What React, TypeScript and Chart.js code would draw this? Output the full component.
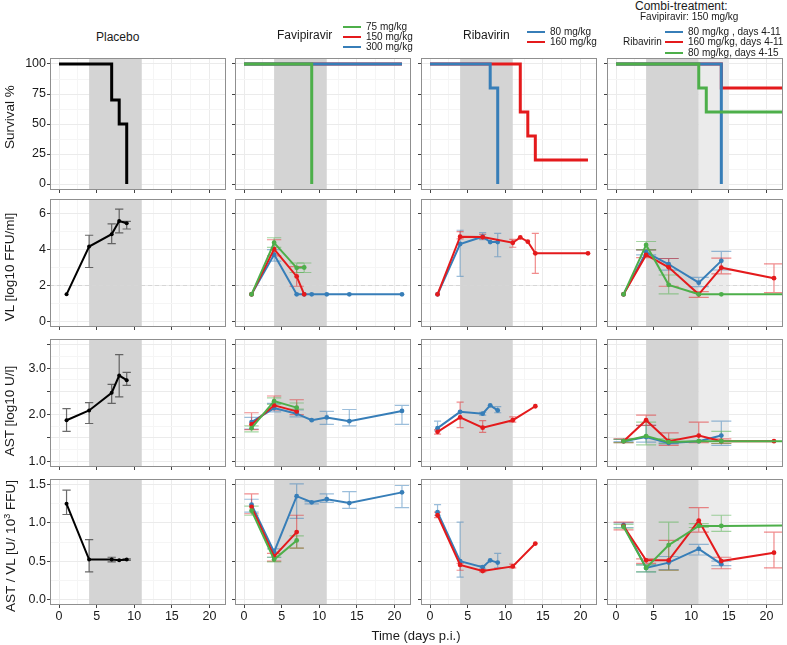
import React, { useEffect, useRef } from 'react';
import { Chart, registerables } from 'chart.js';
Chart.register(...registerables);

const FONT = '"Liberation Sans", Arial, Helvetica, sans-serif';
const GREEN = '#4DAF4A';
const RED = '#E41A1C';
const BLUE = '#377EB8';
const BLACK = '#000000';

// ---------- axes ----------
const xGrid = [0, 2.5, 5, 7.5, 10, 12.5, 15, 17.5, 20];
const xMajor = [0, 5, 10, 15, 20];
const treatWindow = [4, 11];
const extendedWindow = [11, 15];

const survGrid = [0, 12.5, 25, 37.5, 50, 62.5, 75, 87.5, 100];
const survMajor = [0, 25, 50, 75, 100];
const vlGrid = [0, 1, 2, 3, 4, 5, 6];
const vlMajor = [0, 2, 4, 6];
const astGrid = [1, 1.25, 1.5, 1.75, 2, 2.25, 2.5, 2.75, 3, 3.25, 3.5];
const astMajor = [1, 1.5, 2, 2.5, 3, 3.5];
const astLabels = [1, 2, 3];
const ratioGrid = [0, 0.25, 0.5, 0.75, 1, 1.25, 1.5];
const ratioMajor = [0, 0.5, 1, 1.5];
const vlDetectionLimit = 2;

// ---------- survival (%) ----------
const survPlaceboX = [0, 7, 8, 9];
const survPlaceboY = [100, 70, 50, 0];
const survFavi75X = [0, 9];
const survFavi75Y = [100, 0];
const survFavi150X = [0, 21];
const survFavi150Y = [100, 100];
const survFavi300X = [0, 21];
const survFavi300Y = [100, 100];
const survRiba80X = [0, 8, 9];
const survRiba80Y = [100, 80, 0];
const survRiba160X = [0, 12, 13, 14, 21];
const survRiba160Y = [100, 60, 40, 20, 20];
const survCombi80X = [0, 14];
const survCombi80Y = [100, 0];
const survCombi160X = [0, 14, 28];
const survCombi160Y = [100, 80, 80];
const survCombi80LongX = [0, 11, 12, 28];
const survCombi80LongY = [100, 80, 60, 60];

// ---------- viral load (log10 FFU/ml) ----------
const vlPlaceboX = [1, 4, 7, 8, 9];
const vlPlaceboY = [1.5, 4.17, 4.86, 5.6, 5.47];
const vlPlaceboLo = [null, 3.0, 4.33, 4.93, 5.15];
const vlPlaceboHi = [null, 4.8, 5.43, 6.26, 5.57];

const vlFavi75X = [1, 4, 7, 8];
const vlFavi75Y = [1.5, 4.38, 2.98, 3.0];
const vlFavi75Lo = [null, 4.12, 2.72, 2.72];
const vlFavi75Hi = [null, 4.66, 3.25, 3.25];
const vlFavi150X = [1, 4, 7, 8];
const vlFavi150Y = [1.5, 4.03, 2.5, 1.5];
const vlFavi150Lo = [null, 3.65, 1.95, null];
const vlFavi150Hi = [null, 4.55, 3.05, null];
const vlFavi300X = [1, 4, 7, 8, 9, 11, 14, 21];
const vlFavi300Y = [1.5, 3.72, 1.5, 1.5, 1.5, 1.5, 1.5, 1.5];
const vlFavi300Lo = [null, 3.35, null, null, null, null, null, null];
const vlFavi300Hi = [null, 4.0, null, null, null, null, null, null];

const vlRiba80X = [1, 4, 7, 8, 9];
const vlRiba80Y = [1.5, 4.31, 4.72, 4.42, 4.42];
const vlRiba80Lo = [null, 2.5, 4.55, null, 3.6];
const vlRiba80Hi = [null, 5.08, 4.95, null, 4.9];
const vlRiba160X = [1, 4, 7, 11, 12, 13, 14, 21];
const vlRiba160Y = [1.5, 4.72, 4.7, 4.38, 4.68, 4.44, 3.79, 3.79];
const vlRiba160Lo = [null, 4.6, 4.6, 4.13, null, null, 2.67, null];
const vlRiba160Hi = [null, 5.0, 4.85, 4.57, null, null, 4.91, null];

const vlCombi80X = [1, 4, 7, 11, 14];
const vlCombi80Y = [1.5, 3.85, 3.18, 2.15, 3.37];
const vlCombi80Lo = [null, 3.7, 2.85, 1.93, 2.86];
const vlCombi80Hi = [null, 3.98, 3.5, 2.45, 3.9];
const vlCombi160X = [1, 4, 7, 11, 14, 21];
const vlCombi160Y = [1.5, 3.7, 3.01, 1.5, 2.99, 2.4];
const vlCombi160Lo = [null, 3.55, 1.95, 1.33, 2.64, 1.6];
const vlCombi160Hi = [null, 3.98, 3.5, 1.65, 3.52, 3.2];
const vlCombi80LongX = [1, 4, 7, 11, 14, 28];
const vlCombi80LongY = [1.5, 4.26, 2.03, 1.5, 1.5, 1.5];
const vlCombi80LongLo = [null, 4.0, 1.52, null, null, null];
const vlCombi80LongHi = [null, 4.45, 2.58, null, null, null];

// ---------- AST (log10 U/l) ----------
const astPlaceboX = [1, 4, 7, 8, 9];
const astPlaceboY = [1.88, 2.09, 2.47, 2.84, 2.74];
const astPlaceboLo = [1.64, 1.81, 2.24, 2.38, 2.63];
const astPlaceboHi = [2.13, 2.26, 2.65, 3.29, 2.91];

const astFavi75X = [1, 4, 7];
const astFavi75Y = [1.71, 2.29, 2.15];
const astFavi75Lo = [1.63, 2.22, 2.12];
const astFavi75Hi = [1.76, 2.36, 2.25];
const astFavi150X = [1, 4, 7];
const astFavi150Y = [1.79, 2.2, 2.07];
const astFavi150Lo = [1.68, 2.1, 2.0];
const astFavi150Hi = [2.04, 2.4, 2.32];
const astFavi300X = [1, 4, 7, 9, 11, 14, 21];
const astFavi300Y = [1.84, 2.14, 2.02, 1.88, 1.94, 1.86, 2.08];
const astFavi300Lo = [1.69, 2.06, 1.95, null, 1.79, 1.76, 1.79];
const astFavi300Hi = [1.94, 2.24, 2.1, null, 2.07, 2.11, 2.2];

const astRiba80X = [1, 4, 7, 8, 9];
const astRiba80Y = [1.71, 2.06, 2.02, 2.2, 2.09];
const astRiba80Lo = [1.65, null, 1.99, null, 2.04];
const astRiba80Hi = [1.86, 2.27, 2.05, null, 2.17];
const astRiba160X = [1, 4, 7, 11, 14];
const astRiba160Y = [1.63, 1.94, 1.72, 1.88, 2.18];
const astRiba160Lo = [1.58, 1.72, 1.62, 1.84, null];
const astRiba160Hi = [1.68, 2.27, 1.87, 1.95, null];

const astCombi80X = [1, 4, 7, 11, 14];
const astCombi80Y = [1.43, 1.52, 1.39, 1.43, 1.55];
const astCombi80Lo = [1.42, 1.41, 1.37, null, 1.34];
const astCombi80Hi = [1.47, 1.77, 1.41, null, 1.86];
const astCombi160X = [1, 4, 7, 11, 14, 21];
const astCombi160Y = [1.43, 1.88, 1.43, 1.55, 1.43, 1.43];
const astCombi160Lo = [1.4, 1.77, 1.34, 1.4, 1.38, null];
const astCombi160Hi = [1.48, 1.99, 1.61, 1.84, 1.48, null];
const astCombi80LongX = [1, 4, 7, 11, 14, 28];
const astCombi80LongY = [1.43, 1.54, 1.41, 1.43, 1.43, 1.43];
const astCombi80LongLo = [1.4, 1.35, 1.38, null, 1.38, null];
const astCombi80LongHi = [1.47, 1.84, 1.48, null, 1.64, null];

// ---------- AST / VL (U / 10^3 FFU) ----------
const ratioPlaceboX = [1, 4, 7, 8, 9];
const ratioPlaceboY = [1.25, 0.52, 0.52, 0.51, 0.52];
const ratioPlaceboLo = [1.11, 0.36, 0.49, null, 0.51];
const ratioPlaceboHi = [1.43, 0.78, 0.55, null, 0.53];

const ratioFavi75X = [1, 4, 7];
const ratioFavi75Y = [1.16, 0.52, 0.77];
const ratioFavi75Lo = [1.1, 0.49, 0.67];
const ratioFavi75Hi = [1.22, 0.55, 0.83];
const ratioFavi150X = [1, 4, 7];
const ratioFavi150Y = [1.21, 0.56, 0.88];
const ratioFavi150Lo = [1.12, 0.5, 0.67];
const ratioFavi150Hi = [1.38, 0.6, 1.1];
const ratioFavi300X = [1, 4, 7, 9, 11, 14, 21];
const ratioFavi300Y = [1.24, 0.62, 1.35, 1.27, 1.31, 1.26, 1.4];
const ratioFavi300Lo = [1.14, 0.55, 1.06, 1.25, 1.27, 1.19, 1.2];
const ratioFavi300Hi = [1.31, 0.66, 1.51, 1.28, 1.38, 1.41, 1.49];

const ratioRiba80X = [1, 4, 7, 8, 9];
const ratioRiba80Y = [1.14, 0.5, 0.42, 0.51, 0.48];
const ratioRiba80Lo = [1.1, 0.29, 0.4, null, 0.41];
const ratioRiba80Hi = [1.24, 1.01, 0.44, null, 0.6];
const ratioRiba160X = [1, 4, 7, 11, 14];
const ratioRiba160Y = [1.1, 0.45, 0.37, 0.43, 0.73];
const ratioRiba160Lo = [1.07, 0.38, 0.36, 0.41, null];
const ratioRiba160Hi = [1.14, 0.47, 0.39, 0.46, null];

const ratioCombi80X = [1, 4, 7, 11, 14];
const ratioCombi80Y = [0.97, 0.41, 0.48, 0.66, 0.46];
const ratioCombi80Lo = [0.94, 0.36, 0.39, 0.58, 0.44];
const ratioCombi80Hi = [1.0, 0.45, 0.56, 0.72, 0.5];
const ratioCombi160X = [1, 4, 7, 11, 14, 21];
const ratioCombi160Y = [0.96, 0.51, 0.51, 1.03, 0.5, 0.61];
const ratioCombi160Lo = [0.91, 0.47, 0.38, 0.88, 0.4, 0.41];
const ratioCombi160Hi = [1.01, 0.53, 0.77, 1.2, 0.55, 0.88];
const ratioCombi80LongX = [1, 4, 7, 11, 14, 28];
const ratioCombi80LongY = [0.95, 0.41, 0.71, 0.96, 0.96, 0.97];
const ratioCombi80LongLo = [0.93, 0.36, 0.38, 0.94, 0.89, null];
const ratioCombi80LongHi = [0.98, 0.45, 1.01, 0.99, 1.1, null];

// ---------- layout ----------
const COL_LEFT = [50, 235, 421, 607];
const COL_W = 176;
const ROW_TOP = [58, 199, 339, 479];
const ROW_H = [132, 128, 128, 126];
const X_MIN = -1.2;
const X_MAX = 22.2;
const CAP_HALF = [0.55, 0.95, 0.47, 1.33];

type Series = {
  x: number[];
  y: number[];
  lo?: (number | null)[];
  hi?: (number | null)[];
  color: string;
};

type RowAxis = {
  min: number;
  max: number;
  grid: number[];
  major: number[];
  labels: number[];
  fmt: (v: number) => string;
};

const ROW_AXES: RowAxis[] = [
  { min: -5, max: 105, grid: survGrid, major: survMajor, labels: survMajor, fmt: (v) => String(v) },
  { min: -0.325, max: 6.825, grid: vlGrid, major: vlMajor, labels: vlMajor, fmt: (v) => String(v) },
  { min: 0.875, max: 3.625, grid: astGrid, major: astMajor, labels: astLabels, fmt: (v) => v.toFixed(1) },
  { min: -0.075, max: 1.575, grid: ratioGrid, major: ratioMajor, labels: ratioMajor, fmt: (v) => v.toFixed(1) },
];

function rgba(hex: string, a: number) {
  const n = parseInt(hex.slice(1), 16);
  return `rgba(${(n >> 16) & 255},${(n >> 8) & 255},${n & 255},${a})`;
}

type PanelProps = { row: number; col: number; series: Series[] };

function Panel({ row, col, series }: PanelProps) {
  const ref = useRef<HTMLCanvasElement>(null);
  const padL = col === 0 ? 40 : 6;
  const padR = 4;
  const padT = 12;
  const padB = row === 3 ? 24 : 12;
  const w = COL_W + padL + padR;
  const h = ROW_H[row] + padT + padB;
  const left = COL_LEFT[col] - padL;
  const top = ROW_TOP[row] - padT;

  useEffect(() => {
    const canvas = ref.current!;
    const ax = ROW_AXES[row];
    const stepped = row === 0;
    const showY = col === 0;
    const showX = row === 3;
    const shades: { from: number; to: number; color: string }[] = [
      { from: treatWindow[0], to: treatWindow[1], color: '#D4D4D4' },
    ];
    if (col === 3) shades.push({ from: extendedWindow[0], to: extendedWindow[1], color: '#EBEBEB' });

    const decor = {
      id: 'decor',
      beforeDatasetsDraw(chart: any) {
        const { ctx, chartArea: a } = chart;
        const xs = chart.scales.x;
        const ys = chart.scales.y;
        ctx.save();
        ctx.beginPath();
        ctx.rect(a.left, a.top, a.right - a.left, a.bottom - a.top);
        ctx.clip();
        for (const s of shades) {
          const x1 = xs.getPixelForValue(s.from);
          const x2 = xs.getPixelForValue(s.to);
          ctx.fillStyle = s.color;
          ctx.fillRect(x1, a.top, x2 - x1, a.bottom - a.top);
        }
        if (row === 1) {
          const yy = Math.round(ys.getPixelForValue(vlDetectionLimit)) + 0.5;
          ctx.strokeStyle = '#D6D6D6';
          ctx.lineWidth = 1;
          ctx.setLineDash([4, 3]);
          ctx.beginPath();
          ctx.moveTo(a.left, yy);
          ctx.lineTo(a.right, yy);
          ctx.stroke();
          ctx.setLineDash([]);
        }
        const cap = CAP_HALF[col];
        for (let i = series.length - 1; i >= 0; i--) {
          const s = series[i];
          if (!s.lo || !s.hi) continue;
          ctx.strokeStyle = s.color === BLACK ? 'rgba(70,70,70,0.8)' : rgba(s.color, 0.5);
          ctx.lineWidth = 1.2;
          for (let k = 0; k < s.x.length; k++) {
            const lo = s.lo[k];
            const hi = s.hi[k];
            if (lo == null || hi == null) continue;
            const px = xs.getPixelForValue(s.x[k]);
            const pl = xs.getPixelForValue(s.x[k] - cap);
            const pr = xs.getPixelForValue(s.x[k] + cap);
            const py1 = ys.getPixelForValue(lo);
            const py2 = ys.getPixelForValue(hi);
            ctx.beginPath();
            ctx.moveTo(px, py1);
            ctx.lineTo(px, py2);
            ctx.moveTo(pl, py1);
            ctx.lineTo(pr, py1);
            ctx.moveTo(pl, py2);
            ctx.lineTo(pr, py2);
            ctx.stroke();
          }
        }
        ctx.restore();
      },
      afterDraw(chart: any) {
        const { ctx, chartArea: a } = chart;
        ctx.save();
        ctx.strokeStyle = '#8f8f8f';
        ctx.lineWidth = 1;
        ctx.strokeRect(
          Math.round(a.left) + 0.5,
          Math.round(a.top) + 0.5,
          Math.round(a.right - a.left) - 1,
          Math.round(a.bottom - a.top) - 1
        );
        ctx.restore();
      },
    };

    const datasets = series.map((s, i) => ({
      data: s.x.map((xv, k) => ({ x: xv, y: s.y[k] })),
      borderColor: s.color,
      backgroundColor: s.color,
      borderWidth: stepped ? 3 : 2,
      pointRadius: stepped ? 0 : s.color === BLACK ? 2 : 2.4,
      pointBorderWidth: 0,
      pointBackgroundColor: s.color,
      stepped: stepped ? ('before' as const) : false,
      tension: 0,
      order: i,
      borderJoinStyle: 'miter' as const,
    }));

    const chart = new Chart(canvas, {
      type: 'line',
      data: { datasets },
      plugins: [decor],
      options: {
        animation: false,
        responsive: false,
        devicePixelRatio: 1,
        events: [],
        layout: { padding: { top: padT, right: padR, left: 0, bottom: 0 } },
        plugins: { legend: { display: false }, tooltip: { enabled: false }, title: { display: false } },
        scales: {
          x: {
            type: 'linear',
            min: X_MIN,
            max: X_MAX,
            afterBuildTicks: (scale: any) => {
              scale.ticks = xGrid.map((v) => ({ value: v }));
            },
            afterFit: (scale: any) => {
              scale.height = padB;
            },
            border: { display: false },
            grid: {
              color: (c: any) => (c.tick && xMajor.includes(c.tick.value) ? '#EBEBEB' : '#F5F5F5'),
              lineWidth: 1,
              drawTicks: true,
              tickLength: 3,
              tickColor: (c: any) => (c.tick && xMajor.includes(c.tick.value) ? '#444' : 'rgba(0,0,0,0)'),
            },
            ticks: {
              autoSkip: false,
              maxRotation: 0,
              padding: 1,
              color: '#1a1a1a',
              font: { family: FONT, size: 12.5 },
              callback: (v: any) => (showX && xMajor.includes(Number(v)) ? String(v) : ''),
            },
          },
          y: {
            type: 'linear',
            min: ax.min,
            max: ax.max,
            afterBuildTicks: (scale: any) => {
              scale.ticks = ax.grid.map((v) => ({ value: v }));
            },
            afterFit: (scale: any) => {
              scale.width = padL;
            },
            border: { display: false },
            grid: {
              color: (c: any) => (c.tick && ax.major.includes(c.tick.value) ? '#EBEBEB' : '#F5F5F5'),
              lineWidth: 1,
              drawTicks: true,
              tickLength: 3,
              tickColor: (c: any) => (c.tick && ax.major.includes(c.tick.value) ? '#444' : 'rgba(0,0,0,0)'),
            },
            ticks: {
              autoSkip: false,
              padding: 1,
              color: '#1a1a1a',
              font: { family: FONT, size: 12.5 },
              callback: (v: any) => (showY && ax.labels.includes(Number(v)) ? ax.fmt(Number(v)) : ''),
            },
          },
        },
      } as any,
    });
    return () => chart.destroy();
  }, []);

  return (
    <canvas
      ref={ref}
      width={w}
      height={h}
      style={{ position: 'absolute', left, top, width: w, height: h, display: 'block' }}
    />
  );
}

const S = (x: number[], y: number[], color: string, lo?: (number | null)[], hi?: (number | null)[]): Series => ({
  x,
  y,
  color,
  lo,
  hi,
});

// panels[col][row], series listed top-most first
const PANELS: Series[][][] = [
  [
    [S(survPlaceboX, survPlaceboY, BLACK)],
    [S(vlPlaceboX, vlPlaceboY, BLACK, vlPlaceboLo, vlPlaceboHi)],
    [S(astPlaceboX, astPlaceboY, BLACK, astPlaceboLo, astPlaceboHi)],
    [S(ratioPlaceboX, ratioPlaceboY, BLACK, ratioPlaceboLo, ratioPlaceboHi)],
  ],
  [
    [S(survFavi75X, survFavi75Y, GREEN), S(survFavi300X, survFavi300Y, BLUE), S(survFavi150X, survFavi150Y, RED)],
    [
      S(vlFavi75X, vlFavi75Y, GREEN, vlFavi75Lo, vlFavi75Hi),
      S(vlFavi150X, vlFavi150Y, RED, vlFavi150Lo, vlFavi150Hi),
      S(vlFavi300X, vlFavi300Y, BLUE, vlFavi300Lo, vlFavi300Hi),
    ],
    [
      S(astFavi75X, astFavi75Y, GREEN, astFavi75Lo, astFavi75Hi),
      S(astFavi150X, astFavi150Y, RED, astFavi150Lo, astFavi150Hi),
      S(astFavi300X, astFavi300Y, BLUE, astFavi300Lo, astFavi300Hi),
    ],
    [
      S(ratioFavi75X, ratioFavi75Y, GREEN, ratioFavi75Lo, ratioFavi75Hi),
      S(ratioFavi150X, ratioFavi150Y, RED, ratioFavi150Lo, ratioFavi150Hi),
      S(ratioFavi300X, ratioFavi300Y, BLUE, ratioFavi300Lo, ratioFavi300Hi),
    ],
  ],
  [
    [S(survRiba80X, survRiba80Y, BLUE), S(survRiba160X, survRiba160Y, RED)],
    [
      S(vlRiba160X, vlRiba160Y, RED, vlRiba160Lo, vlRiba160Hi),
      S(vlRiba80X, vlRiba80Y, BLUE, vlRiba80Lo, vlRiba80Hi),
    ],
    [
      S(astRiba160X, astRiba160Y, RED, astRiba160Lo, astRiba160Hi),
      S(astRiba80X, astRiba80Y, BLUE, astRiba80Lo, astRiba80Hi),
    ],
    [
      S(ratioRiba160X, ratioRiba160Y, RED, ratioRiba160Lo, ratioRiba160Hi),
      S(ratioRiba80X, ratioRiba80Y, BLUE, ratioRiba80Lo, ratioRiba80Hi),
    ],
  ],
  [
    [
      S(survCombi80LongX, survCombi80LongY, GREEN),
      S(survCombi80X, survCombi80Y, BLUE),
      S(survCombi160X, survCombi160Y, RED),
    ],
    [
      S(vlCombi80LongX, vlCombi80LongY, GREEN, vlCombi80LongLo, vlCombi80LongHi),
      S(vlCombi160X, vlCombi160Y, RED, vlCombi160Lo, vlCombi160Hi),
      S(vlCombi80X, vlCombi80Y, BLUE, vlCombi80Lo, vlCombi80Hi),
    ],
    [
      S(astCombi80LongX, astCombi80LongY, GREEN, astCombi80LongLo, astCombi80LongHi),
      S(astCombi160X, astCombi160Y, RED, astCombi160Lo, astCombi160Hi),
      S(astCombi80X, astCombi80Y, BLUE, astCombi80Lo, astCombi80Hi),
    ],
    [
      S(ratioCombi80LongX, ratioCombi80LongY, GREEN, ratioCombi80LongLo, ratioCombi80LongHi),
      S(ratioCombi160X, ratioCombi160Y, RED, ratioCombi160Lo, ratioCombi160Hi),
      S(ratioCombi80X, ratioCombi80Y, BLUE, ratioCombi80Lo, ratioCombi80Hi),
    ],
  ],
];

const txt = (left: number, top: number, size: number, content: React.ReactNode, center = false) => (
  <div
    style={{
      position: 'absolute',
      left,
      top,
      fontSize: size,
      lineHeight: 1,
      whiteSpace: 'nowrap',
      transform: center ? 'translate(-50%,-50%)' : 'translateY(-50%)',
      color: '#1a1a1a',
    }}
  >
    {content}
  </div>
);

const vtxt = (cx: number, cy: number, content: React.ReactNode) => (
  <div
    style={{
      position: 'absolute',
      left: cx,
      top: cy,
      fontSize: 13.5,
      lineHeight: 1,
      whiteSpace: 'nowrap',
      transform: 'translate(-50%,-50%) rotate(-90deg)',
      color: '#1a1a1a',
    }}
  >
    {content}
  </div>
);

const key = (left: number, cy: number, color: string) => (
  <div style={{ position: 'absolute', left, top: cy - 1, width: 18, height: 2, background: color }} />
);

export default function App() {
  return (
    <div
      style={{
        position: 'absolute',
        left: 0,
        top: 0,
        width: 787,
        height: 645,
        background: '#ffffff',
        fontFamily: FONT,
        overflow: 'hidden',
      }}
    >
      {PANELS.map((rows, col) =>
        rows.map((series, row) => <Panel key={`${col}-${row}`} row={row} col={col} series={series} />)
      )}

      {txt(96, 37, 12, 'Placebo')}
      {txt(277, 35, 12, 'Favipiravir')}
      {key(343, 27, GREEN)}
      {key(343, 37, RED)}
      {key(343, 47, BLUE)}
      {txt(366, 27, 10, '75 mg/kg')}
      {txt(366, 37, 10, '150 mg/kg')}
      {txt(366, 47, 10, '300 mg/kg')}

      {txt(463, 35, 12, 'Ribavirin')}
      {key(527, 32, BLUE)}
      {key(527, 42, RED)}
      {txt(550, 32, 10, '80 mg/kg')}
      {txt(550, 42, 10, '160 mg/kg')}

      {txt(635, 6, 12, 'Combi-treatment:')}
      {txt(640, 17, 10, 'Favipiravir: 150 mg/kg')}
      {txt(623, 42, 10, 'Ribavirin')}
      {key(665, 32, BLUE)}
      {key(665, 42, RED)}
      {key(665, 53, GREEN)}
      {txt(688, 32, 10, '80 mg/kg , days 4-11')}
      {txt(688, 42, 10, '160 mg/kg, days 4-11')}
      {txt(688, 53, 10, '80 mg/kg, days 4-15')}

      {vtxt(10, 117, 'Survival %')}
      {vtxt(10, 267, 'VL [log10 FFU/ml]')}
      {vtxt(10, 411, 'AST [log10 U/l]')}
      {vtxt(10, 546, <span>AST / VL [U/ 10<sup style={{ fontSize: 9, verticalAlign: 5 }}>3</sup> FFU]</span>)}

      {txt(416, 635, 13, 'Time (days p.i.)', true)}
    </div>
  );
}
